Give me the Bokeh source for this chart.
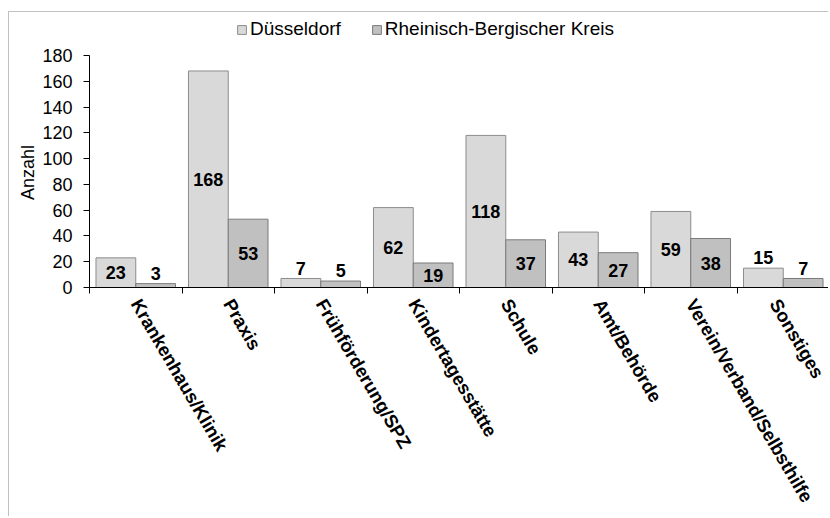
from bokeh.plotting import figure
from bokeh.models import (ColumnDataSource, Range1d, FixedTicker, Legend, LegendItem)
from bokeh.core.properties import value
from bokeh.embed import file_html
from bokeh.resources import INLINE

categories = ["Krankenhaus/Klinik", "Praxis", "Frühförderung/SPZ", "Kindertagesstätte",
              "Schule", "Amt/Behörde", "Verein/Verband/Selbsthilfe", "Sonstiges"]
duesseldorf = [23, 168, 7, 62, 118, 43, 59, 15]
rhein_berg = [3, 53, 5, 19, 37, 27, 38, 7]
series_names = ["Düsseldorf", "Rheinisch-Bergischer Kreis"]
y_ticks = [0, 20, 40, 60, 80, 100, 120, 140, 160, 180]
y_title = "Anzahl"

FONT = "Liberation Sans"
n = len(categories)
centers = [i + 0.5 for i in range(n)]
off = 0.215
bw = 0.43

# layout geometry (pixels)
W, H = 820, 505
BORDER_LEFT, BORDER_BOTTOM = 80, 230
FRAME_H = H - BORDER_BOTTOM          # frame spans full height above x axis
AXIS_H = 232                         # pixel height of the 0..180 axis
y_max = 180 * FRAME_H / AXIS_H       # headroom above 180 holds the legend

def label_y(v):
    return v / 2 if v >= 19 else v + 8

src_d = ColumnDataSource(dict(x=[c - off for c in centers], top=duesseldorf,
                              ly=[label_y(v) for v in duesseldorf],
                              txt=[str(v) for v in duesseldorf]))
src_r = ColumnDataSource(dict(x=[c + off for c in centers], top=rhein_berg,
                              ly=[label_y(v) for v in rhein_berg],
                              txt=[str(v) for v in rhein_berg]))

p = figure(width=W, height=H, output_backend="svg", toolbar_location=None,
           x_range=Range1d(0, n), y_range=Range1d(0, y_max),
           min_border_left=BORDER_LEFT, min_border_right=0, min_border_top=0,
           min_border_bottom=BORDER_BOTTOM,
           styles={"border-top": "1px solid #c0c0c0", "border-left": "1px solid #c0c0c0",
                   "margin-top": "11px", "margin-left": "8px"})
p.outline_line_color = None
p.grid.visible = False
p.background_fill_color = "white"
p.border_fill_color = "white"

r1 = p.vbar(x="x", top="top", width=bw, bottom=0, source=src_d,
            fill_color="#d9d9d9", line_color="#8c8c8c", line_width=1)
r2 = p.vbar(x="x", top="top", width=bw, bottom=0, source=src_r,
            fill_color="#c0c0c0", line_color="#7a7a7a", line_width=1)

for s in (src_d, src_r):
    p.text(x="x", y="ly", text="txt", source=s, text_font=value(FONT),
           text_font_size="18px", text_font_style="bold", text_color="black",
           text_align="center", text_baseline="middle")

# y axis (label padded with no-break spaces so it centres on the 0..180 rule)
ya = p.yaxis[0]
ya.ticker = FixedTicker(ticks=y_ticks)
ya.bounds = (0, 180)
ya.axis_label = y_title + "\u00a0" * 9
ya.axis_label_text_font = FONT
ya.axis_label_text_font_size = "18px"
ya.axis_label_text_font_style = "normal"
ya.axis_label_text_color = "black"
ya.axis_label_standoff = 1
ya.major_label_text_font = FONT
ya.major_label_text_font_size = "18px"
ya.major_label_text_color = "black"
ya.major_label_standoff = 11
ya.major_tick_in = 0
ya.major_tick_out = 6
ya.minor_tick_line_color = None
ya.axis_line_color = "black"
ya.major_tick_line_color = "black"

# x axis
xa = p.xaxis[0]
xa.ticker = FixedTicker(ticks=centers, minor_ticks=list(range(n + 1)))
xa.major_label_overrides = {c: lab for c, lab in zip(centers, categories)}
xa.major_label_orientation = -1.04
xa.major_label_text_font = FONT
xa.major_label_text_font_size = "18.5px"
xa.major_label_text_font_style = "bold"
xa.major_label_text_color = "black"
xa.major_label_standoff = 7
xa.major_tick_line_color = None
xa.major_tick_in = 0
xa.major_tick_out = 6
xa.minor_tick_in = 0
xa.minor_tick_out = 6
xa.minor_tick_line_color = "black"
xa.axis_line_color = "black"

legend = Legend(items=[LegendItem(label=series_names[0], renderers=[r1]),
                       LegendItem(label=series_names[1], renderers=[r2])],
                orientation="horizontal", location=(147, FRAME_H - 8 - 20),
                glyph_width=11, glyph_height=11, label_standoff=3, spacing=30,
                padding=0, margin=0, label_height=20,
                label_text_font=FONT, label_text_font_size="19px", label_text_color="black",
                border_line_color=None, background_fill_alpha=0)
p.add_layout(legend, "center")

open("out.html", "w").write(file_html(p, INLINE))
